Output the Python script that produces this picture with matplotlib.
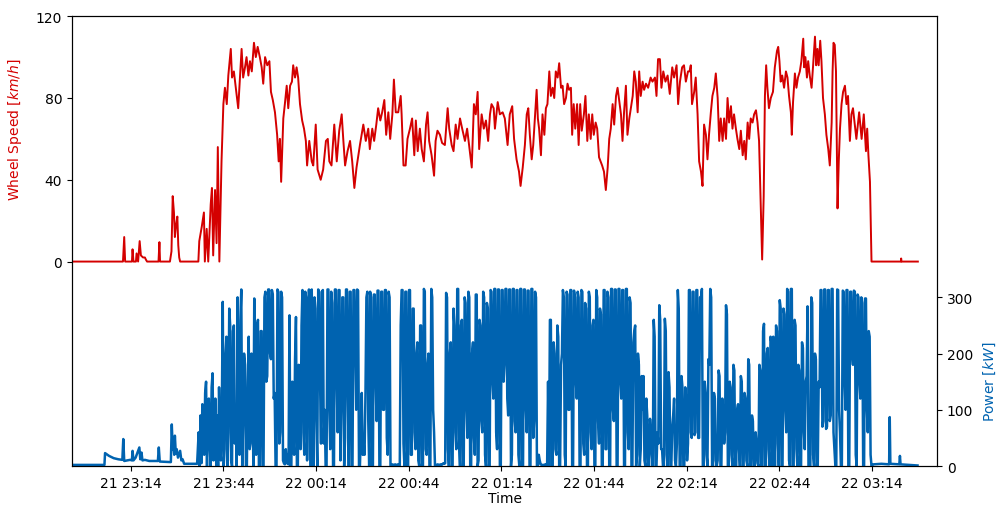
import numpy as np
import pandas as pd
import matplotlib
matplotlib.use('Agg')
import matplotlib.pyplot as plt
import matplotlib.dates as mdates

# trip start, all times below are minutes after this
t_start = pd.Timestamp('2019-06-21 22:55')

# wheel speed [km/h]
speed_min = [
    0, 16.5, 16.9, 17.2, 19.4, 19.6, 19.9, 20.7, 20.9, 21.4,
    21.9, 22.3, 23.0, 23.6, 23.9, 24.3, 28.0, 28.3, 28.5, 31.7,
    32.2, 32.6, 33.0, 33.3, 33.7, 34.1, 34.4, 34.7, 35.0, 40.9,
    41.2, 42.0, 42.7, 43.0, 43.6, 44.1, 44.9, 45.3, 45.7, 46.3,
    46.8, 47.2, 47.7, 48.4, 49.0, 49.5, 50.1, 50.6, 51.4, 51.8,
    52.4, 53.1, 53.8, 54.9, 55.4, 56.0, 56.5, 57.1, 57.6, 58.2,
    58.9, 59.5, 60.1, 60.8, 61.4, 61.9, 62.5, 63.2, 63.9, 64.4,
    65.0, 65.7, 66.4, 66.9, 67.3, 67.7, 68.4, 68.9, 69.5, 70.0,
    70.6, 71.2, 71.6, 72.2, 72.7, 73.2, 73.8, 74.5, 75.1, 75.7,
    76.1, 76.8, 77.6, 78.1, 78.9, 79.5, 80.5, 81.3, 82.2, 82.8,
    83.3, 84.0, 84.9, 85.7, 86.5, 87.3, 87.8, 88.4, 89.2, 90.0,
    90.7, 91.4, 92.1, 93.2, 94.3, 95.1, 95.9, 96.4, 97.2, 97.8,
    98.5, 99.1, 99.8, 100.4, 101.1, 101.7, 102.4, 103.0, 103.7, 104.2,
    104.8, 105.6, 106.4, 106.7, 107.3, 108.0, 108.6, 109.4, 110.1, 110.8,
    111.3, 111.9, 112.6, 113.2, 113.9, 114.6, 115.1, 115.6, 116.4, 117.2,
    117.7, 118.3, 119.1, 119.8, 120.7, 121.6, 122.1, 122.9, 123.5, 124.2,
    124.8, 125.6, 126.3, 127.2, 127.9, 128.7, 129.4, 130.1, 130.7, 131.3,
    131.8, 132.6, 133.3, 134.0, 134.7, 135.3, 135.8, 136.5, 136.9, 137.8,
    138.5, 139.4, 140.1, 141.0, 141.7, 142.5, 143.1, 143.9, 144.7, 145.2,
    145.9, 146.6, 147.2, 147.7, 148.2, 148.8, 149.3, 149.9, 150.4, 150.8,
    151.2, 151.8, 152.3, 152.9, 153.4, 153.9, 154.5, 155.0, 155.6, 156.1,
    156.6, 157.2, 157.7, 158.3, 158.8, 159.3, 159.9, 160.4, 160.9, 161.5,
    161.9, 162.4, 162.9, 163.5, 164.0, 164.5, 165.0, 165.7, 166.2, 166.8,
    167.3, 167.9, 168.4, 168.9, 169.5, 170.0, 170.6, 171.1, 171.6, 172.2,
    172.8, 173.4, 173.9, 174.4, 175.0, 175.5, 176.1, 176.6, 177.1, 177.7,
    178.2, 178.7, 179.3, 179.8, 180.4, 180.9, 181.5, 182.0, 182.5, 183.1,
    183.6, 184.1, 184.7, 185.2, 185.8, 186.5, 187.3, 187.9, 188.7, 189.2,
    189.7, 190.3, 190.8, 191.4, 192.1, 192.8, 193.5, 194.3, 194.9, 195.7,
    196.2, 196.8, 197.5, 198.1, 198.7, 199.4, 199.9, 200.3, 200.7, 201.4,
    201.9, 202.5, 203.0, 203.6, 204.1, 204.6, 205.2, 205.7, 206.2, 206.8,
    207.3, 207.9, 208.4, 209.0, 209.5, 210.0, 210.6, 211.1, 211.7, 212.2,
    212.7, 213.3, 213.8, 214.3, 214.9, 215.4, 216.0, 216.5, 217.1, 217.6,
    218.1, 218.7, 219.2, 219.7, 220.3, 220.8, 221.4, 221.9, 222.4, 223.0,
    223.4, 223.9, 224.3, 224.7, 225.1, 225.6, 226.2, 226.9, 227.5, 228.2,
    228.6, 229.0, 229.4, 229.9, 230.5, 231.1, 231.6, 232.1, 232.7, 233.0,
    233.4, 234.0, 234.5, 235.0, 235.6, 236.1, 236.7, 237.0, 237.4, 237.9,
    238.3, 238.8, 239.4, 239.9, 240.5, 240.9, 241.3, 241.7, 242.2, 242.6,
    243.1, 243.7, 244.2, 244.8, 245.3, 245.9, 246.2, 246.5, 246.9, 247.3,
    247.8, 248.2, 248.6, 249.1, 249.6, 250.2, 250.7, 251.2, 251.8, 252.3,
    252.8, 253.9, 254.8, 255.6, 256.3, 257.0, 257.4, 257.8, 258.3, 258.8,
    268.3, 268.4, 268.5, 273.8,
]
speed_kmh = [
    0, 0, 12, 0, 0, 6, 0, 0, 4, 0,
    10, 3, 2, 2, 1, 0, 0, 9.5, 0, 0,
    5, 32, 24, 12, 18, 22, 8, 2, 0, 0,
    10, 17, 24, 0, 16, 0, 28, 36, 3, 35,
    9, 56, 0, 49, 77, 85, 77, 91, 104, 90,
    93, 84, 75, 104, 90, 95, 100, 91, 98, 93,
    107, 100, 105, 100, 95, 87, 100, 96, 98, 83,
    79, 73, 62, 49, 60, 39, 70, 77, 86, 75,
    86, 88, 96, 90, 95, 90, 77, 69, 65, 59,
    47, 59, 49, 47, 67, 45, 40, 45, 59, 60,
    49, 47, 67, 49, 64, 72, 60, 47, 54, 59,
    49, 36, 46, 57, 67, 59, 65, 55, 65, 59,
    67, 75, 69, 73, 79, 62, 73, 60, 72, 89,
    73, 73, 81, 72, 47, 47, 60, 65, 70, 52,
    69, 54, 65, 55, 49, 67, 73, 59, 52, 42,
    59, 64, 62, 58, 57, 75, 65, 57, 54, 67,
    60, 70, 65, 59, 65, 55, 46, 77, 72, 83,
    55, 72, 65, 69, 59, 72, 77, 75, 65, 78,
    72, 73, 70, 57, 72, 76, 60, 50, 44, 37,
    46, 57, 72, 75, 62, 50, 57, 72, 84, 70,
    65, 52, 72, 62, 75, 77, 93, 81, 85, 80,
    93, 90, 97, 85, 86, 77, 80, 87, 84, 85,
    62, 77, 65, 77, 57, 77, 64, 72, 81, 59,
    72, 60, 72, 62, 68, 65, 51, 49, 47, 44,
    35, 46, 60, 65, 77, 67, 81, 85, 79, 72,
    59, 73, 86, 62, 70, 75, 81, 93, 88, 73,
    93, 81, 88, 84, 87, 85, 90, 88, 90, 81,
    99, 99, 85, 93, 88, 91, 82, 95, 90, 96,
    77, 88, 95, 96, 88, 93, 93, 96, 77, 83,
    90, 72, 49, 44, 37, 67, 62, 50, 62, 73,
    81, 85, 92, 80, 59, 70, 59, 70, 60, 80,
    68, 76, 65, 72, 65, 60, 55, 64, 52, 59,
    50, 68, 60, 70, 68, 72, 74, 68, 59, 24,
    1, 32, 81, 96, 85, 75, 80, 83, 95, 103,
    105, 98, 88, 91, 85, 93, 90, 81, 73, 62,
    78, 92, 85, 90, 93, 98, 109, 95, 100, 90,
    98, 91, 85, 96, 110, 96, 104, 96, 108, 98,
    80, 72, 62, 55, 47, 68, 93, 107, 106, 93,
    26, 49, 65, 77, 83, 86, 77, 81, 59, 72,
    75, 60, 73, 60, 72, 54, 65, 52, 39, 0,
    0, 1.5, 0, 0,
]

# power [kW]: idle part before driving (irregular samples)
power_early_min = [0, 10.5, 10.7, 12, 13.5, 15, 16.3, 16.6, 16.9, 18.8,
                   19.4, 19.6, 19.9, 20.6, 21.8, 22.1, 22.5, 22.8, 23.6, 25,
                   27.8, 28.1, 28.4, 32, 32.3, 32.6, 32.8, 33.1, 33.3, 33.6,
                   33.9, 34.3, 35, 35.4, 35.8, 36.3, 40.5]
power_early_kw = [2, 2, 23, 18, 14, 12, 11, 48, 9, 11,
                  10, 27, 10, 15, 33, 12, 24, 10, 11, 9,
                  9, 33, 8, 7, 74, 30, 40, 20, 54, 22,
                  30, 15, 27, 10, 12, 4, 4]

# driving part, logged every 0.3 min from minute 41 (one row = 6 min)
drive_start_min = 41.0
drive_step_min = 0.3
power_drive_kw = [
    60, 0, 90, 5, 110, 40, 20, 130, 150, 0, 100, 120, 30, 0, 140, 165, 10, 60, 120, 0,
    90, 0, 140, 60, 10, 100, 292, 0, 30, 200, 230, 0, 60, 280, 250, 10, 0, 240, 250, 40,
    100, 0, 300, 80, 20, 260, 314, 0, 80, 200, 180, 0, 0, 150, 230, 30, 40, 200, 160, 0,
    298, 100, 20, 250, 260, 0, 0, 240, 240, 0, 0, 300, 310, 150, 160, 314, 314, 200, 190, 313,
    305, 120, 130, 0, 0, 314, 310, 40, 60, 310, 300, 10, 5, 3, 30, 5, 20, 3, 268, 0,
    0, 150, 60, 20, 190, 265, 0, 0, 180, 120, 30, 250, 313, 60, 20, 310, 300, 10, 120, 314,
    120, 0, 314, 200, 0, 300, 280, 80, 0, 314, 310, 150, 40, 310, 313, 40, 100, 0, 0, 314,
    314, 100, 30, 310, 290, 0, 0, 314, 314, 150, 60, 313, 313, 10, 100, 300, 300, 0, 50, 314,
    314, 120, 0, 310, 310, 0, 0, 313, 313, 200, 100, 314, 312, 0, 0, 60, 130, 20, 40, 20,
    130, 300, 310, 80, 0, 310, 300, 0, 0, 305, 305, 150, 80, 312, 312, 0, 0, 310, 310, 100,
    100, 313, 313, 50, 20, 310, 300, 0, 0, 3, 2, 2, 3, 2, 2, 3, 2, 1, 250, 313,
    313, 40, 0, 310, 310, 0, 0, 313, 313, 20, 20, 280, 280, 60, 30, 200, 220, 10, 0, 250,
    250, 0, 0, 315, 310, 30, 20, 180, 200, 0, 0, 315, 300, 100, 60, 0, 2, 2, 3, 2,
    2, 3, 2, 3, 5, 4, 5, 308, 300, 30, 0, 200, 220, 0, 0, 280, 250, 60, 30, 315,
    315, 40, 0, 250, 260, 0, 0, 300, 290, 100, 50, 310, 300, 0, 0, 200, 220, 50, 20, 305,
    305, 0, 10, 260, 250, 80, 60, 310, 300, 20, 0, 290, 280, 0, 0, 313, 310, 150, 120, 315,
    315, 60, 30, 314, 314, 0, 0, 313, 313, 150, 180, 315, 315, 120, 90, 314, 314, 0, 20, 315,
    315, 80, 60, 313, 313, 20, 0, 315, 315, 0, 0, 314, 314, 100, 60, 312, 312, 0, 0, 315,
    315, 50, 80, 310, 300, 0, 0, 20, 10, 3, 2, 2, 2, 2, 3, 2, 3, 150, 0, 260,
    260, 0, 0, 220, 200, 30, 20, 250, 230, 0, 0, 180, 200, 313, 300, 20, 0, 310, 305, 100,
    100, 313, 313, 0, 0, 312, 300, 150, 120, 310, 300, 0, 0, 313, 310, 40, 20, 290, 280, 0,
    0, 310, 300, 60, 30, 250, 260, 0, 0, 313, 300, 80, 40, 280, 270, 0, 0, 313, 313, 30,
    30, 310, 300, 0, 0, 315, 315, 100, 80, 314, 314, 0, 0, 315, 315, 150, 120, 313, 313, 0,
    0, 315, 315, 60, 30, 300, 290, 0, 0, 220, 240, 250, 0, 20, 200, 180, 0, 30, 160, 100,
    160, 10, 0, 120, 90, 0, 0, 84, 60, 20, 0, 260, 230, 0, 0, 60, 40, 286, 260, 30,
    30, 0, 0, 262, 240, 20, 0, 167, 140, 0, 0, 70, 90, 120, 10, 0, 40, 313, 280, 0,
    0, 160, 140, 0, 0, 140, 120, 10, 40, 313, 313, 60, 50, 310, 310, 55, 60, 313, 313, 50,
    50, 300, 300, 315, 0, 0, 150, 130, 20, 0, 190, 180, 315, 300, 0, 0, 130, 120, 10, 0,
    10, 170, 160, 0, 0, 120, 100, 40, 60, 286, 270, 0, 0, 150, 140, 20, 0, 180, 170, 0,
    0, 100, 110, 30, 0, 160, 150, 0, 0, 130, 120, 10, 0, 190, 180, 0, 0, 90, 80, 0,
    0, 60, 40, 5, 0, 180, 170, 0, 0, 240, 253, 0, 0, 200, 210, 30, 0, 230, 220, 0,
    230, 0, 0, 250, 240, 40, 0, 295, 280, 0, 0, 280, 270, 100, 60, 315, 310, 10, 0, 315,
    315, 0, 0, 260, 250, 30, 0, 180, 170, 0, 0, 220, 210, 60, 30, 150, 160, 284, 0, 0,
    0, 300, 290, 20, 0, 200, 190, 0, 0, 150, 140, 313, 313, 70, 80, 314, 314, 66, 70, 313,
    313, 80, 90, 315, 315, 60, 30, 0, 0, 314, 313, 100, 60, 0, 0, 312, 310, 150, 100, 313,
    313, 0, 0, 310, 310, 200, 180, 312, 310, 20, 0, 305, 300, 150, 120, 300, 290, 0, 0, 298,
    298, 100, 60, 240, 230, 20, 0,
]

# parked again after arrival
power_tail_min = [259.4, 262, 264.5, 264.7, 264.9, 267.8, 268.0, 268.2, 271, 273.7]
power_tail_kw = [3, 4, 3, 87, 4, 3, 18, 3, 2, 1]

assert len(speed_min) == len(speed_kmh)

red = '#d40000'
blue = '#0063b0'

speed_time = t_start + pd.to_timedelta(speed_min, unit='min')
drive_min = drive_start_min + drive_step_min * np.arange(len(power_drive_kw))
power_min = np.concatenate([power_early_min, drive_min, power_tail_min])
power_kw = np.concatenate([power_early_kw, power_drive_kw, power_tail_kw])
power_time = t_start + pd.to_timedelta(power_min, unit='min')

fig, ax1 = plt.subplots(figsize=(10, 5.06), dpi=100)
fig.subplots_adjust(left=0.072, right=0.937, top=0.966, bottom=0.077)

ax1.plot(speed_time, speed_kmh, color=red, lw=1.4)
ax1.set_ylim(-100, 120)
ax1.set_yticks([0, 40, 80, 120])
ax1.set_ylabel('Wheel Speed [$km/h$]', color=red)
ax1.yaxis.set_label_coords(-0.0555, 0.75)
ax1.set_xlabel('Time', labelpad=1)

ax2 = ax1.twinx()
ax2.plot(power_time, power_kw, color=blue, lw=1.8)
ax2.set_ylim(0, 800)
ax2.set_yticks([0, 100, 200, 300])
ax2.set_ylabel('Power [$kW$]', color=blue)
ax2.yaxis.set_label_coords(1.052, 0.19)

ax1.set_xlim(t_start, t_start + pd.Timedelta(minutes=280))
ax1.xaxis.set_major_locator(mdates.MinuteLocator(byminute=[14, 44]))
ax1.xaxis.set_major_formatter(mdates.DateFormatter('%d %H:%M'))

fig.savefig('out.png', dpi=100)
